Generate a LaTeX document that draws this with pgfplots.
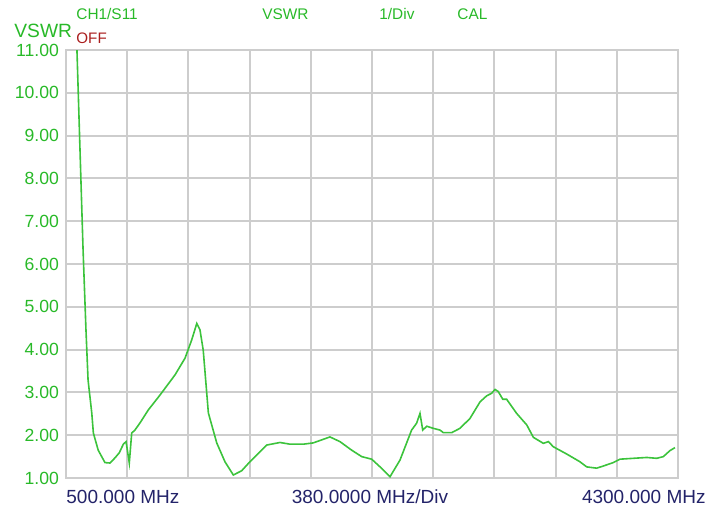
\documentclass[border=0pt]{standalone}
\usepackage{pgfplots}
\pgfplotsset{compat=1.18}
\usepackage{fontspec}
\setmainfont{Liberation Sans}
\definecolor{vgreen}{RGB}{40,185,40}
\definecolor{vline}{RGB}{60,195,60}
\definecolor{vgrid}{RGB}{205,205,205}
\definecolor{vnavy}{RGB}{35,35,105}
\definecolor{vred}{RGB}{170,30,30}
\begin{document}
\begin{tikzpicture}
\useasboundingbox (-33pt,-16.5pt) rectangle (328.5pt,239pt);
\begin{axis}[
  name=ax, at={(0,0)}, anchor=south west,
  scale only axis, width=306pt, height=214pt,
  xmin=500, xmax=4300, ymin=1, ymax=11,
  xtick={500,880,1260,1640,2020,2400,2780,3160,3540,3920,4300},
  ytick={1,2,3,4,5,6,7,8,9,10,11},
  xticklabels={},
  major tick length=0pt,
  grid=major,
  major grid style={vgrid, line width=1pt},
  axis line style={vgrid, line width=1pt},
  /pgf/number format/assume math mode=true,
  yticklabel style={font=\fontsize{8.8}{9}\selectfont, text=vgreen, xshift=0pt},
  yticklabel={\pgfmathprintnumber[fixed,fixed zerofill,precision=2]{\tick}},
  clip=true,
]
\addplot[vline, line width=0.8pt] coordinates {
(568,11.0) (587,8.66) (606,6.33) (624,4.46) (637,3.29) (660,2.52) (670,2.05)
(700,1.65) (742,1.36) (773,1.35) (804,1.47) (831,1.59) (856,1.79) (873,1.85)
(893,1.35) (908,2.05) (928,2.12) (960,2.29) (1011,2.59) (1084,2.94) (1177,3.41)
(1239,3.80) (1280,4.22) (1312,4.61) (1332,4.46) (1352,3.99) (1384,2.52)
(1436,1.82) (1487,1.38) (1539,1.07) (1591,1.17) (1642,1.38) (1746,1.77)
(1829,1.83) (1891,1.79) (1973,1.79) (2035,1.82) (2139,1.96) (2201,1.85)
(2274,1.65) (2336,1.50) (2398,1.44) (2450,1.26) (2512,1.03) (2574,1.42)
(2646,2.12) (2677,2.28) (2698,2.51) (2715,2.12) (2740,2.21) (2781,2.16)
(2822,2.12) (2843,2.06) (2895,2.06) (2946,2.16) (3008,2.39) (3071,2.78)
(3112,2.92) (3143,2.98) (3164,3.07) (3184,3.02) (3212,2.84) (3236,2.84)
(3298,2.51) (3361,2.24) (3402,1.95) (3464,1.81) (3495,1.85) (3526,1.73)
(3609,1.56) (3691,1.38) (3733,1.26) (3795,1.23) (3836,1.28) (3898,1.36)
(3940,1.44) (4022,1.46) (4106,1.48) (4168,1.46) (4209,1.50) (4250,1.64) (4281,1.71)
};
\end{axis}
\begin{scope}[every node/.style={inner sep=0pt}]
\node[anchor=west, text=vgreen, font=\fontsize{7.7}{8}\selectfont] at (5pt,232pt) {CH1/S11};
\node[anchor=west, text=vgreen, font=\fontsize{7.7}{8}\selectfont] at (98pt,232pt) {VSWR};
\node[anchor=west, text=vgreen, font=\fontsize{7.7}{8}\selectfont] at (156.5pt,232pt) {1/Div};
\node[anchor=west, text=vgreen, font=\fontsize{7.7}{8}\selectfont] at (195.5pt,232pt) {CAL};
\node[anchor=west, text=vred, font=\fontsize{7.6}{8}\selectfont] at (5pt,220pt) {OFF};
\node[anchor=west, text=vgreen, font=\fontsize{9.6}{10}\selectfont] at (-26pt,223.5pt) {VSWR};
\node[anchor=west, text=vnavy, font=\fontsize{9.5}{10}\selectfont] at (0pt,-9.5pt) {500.000 MHz};
\node[anchor=center, text=vnavy, font=\fontsize{9.5}{10}\selectfont] at (152pt,-9.5pt) {380.0000 MHz/Div};
\node[anchor=east, text=vnavy, font=\fontsize{9.5}{10}\selectfont] at (320pt,-9.5pt) {4300.000 MHz};
\end{scope}
\end{tikzpicture}
\end{document}
